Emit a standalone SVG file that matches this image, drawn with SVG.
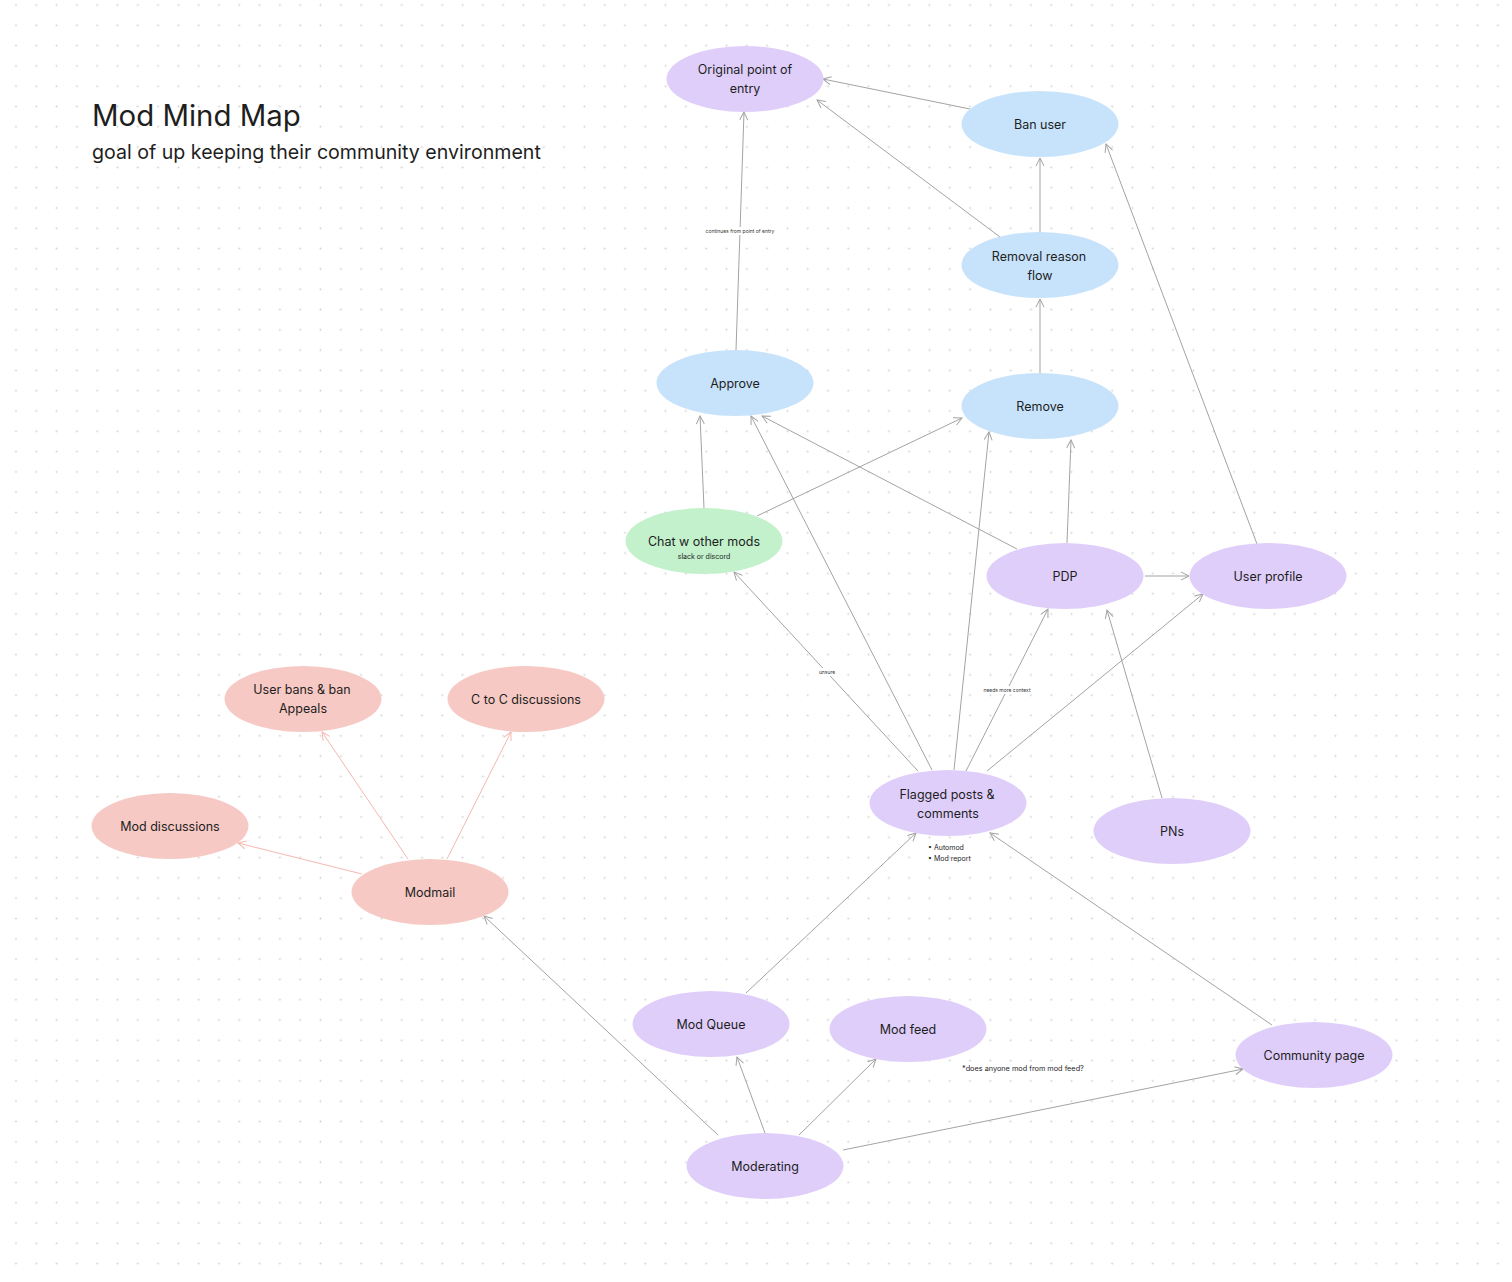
<svg xmlns="http://www.w3.org/2000/svg" width="1512" height="1282" viewBox="0 0 1512 1282">
<defs>
<pattern id="dots" patternUnits="userSpaceOnUse" x="5.85" y="-5.15" width="20.3" height="20.3">
<circle cx="10.15" cy="10.15" r="1" fill="#d2d2d2"/>
</pattern>
<marker id="ah" viewBox="0 0 10 10" refX="9" refY="5" markerWidth="10" markerHeight="10" markerUnits="userSpaceOnUse" orient="auto">
<path d="M1,1 L9,5 L1,9" fill="none" stroke="#a3a3a3" stroke-width="1"/>
</marker>
<marker id="ahp" viewBox="0 0 10 10" refX="9" refY="5" markerWidth="10" markerHeight="10" markerUnits="userSpaceOnUse" orient="auto">
<path d="M1,1 L9,5 L1,9" fill="none" stroke="#f4b8b0" stroke-width="1"/>
</marker>
</defs>
<style>
.t{font-family:Inter,"Liberation Sans",sans-serif;fill:#1e1e1e;text-anchor:middle}
.n{font-size:12.5px}
.s{font-size:5px;fill:#333}
.c{stroke:#a3a3a3;stroke-width:1;fill:none;marker-end:url(#ah)}
.cp{stroke:#f4b8b0;stroke-width:1;fill:none;marker-end:url(#ahp)}
.pu{fill:#e0cefa}
.bl{fill:#c7e3fb}
.gr{fill:#c2f1cb}
.pk{fill:#f6c9c4}
.lb{fill:#ffffff}
</style>
<rect width="1512" height="1282" fill="#ffffff"/>
<rect width="1512" height="1282" fill="url(#dots)"/>

<g id="title">
<text x="92" y="126" font-family="Inter,'Liberation Sans',sans-serif" font-size="29.4" fill="#1e1e1e">Mod Mind Map</text>
<text x="92" y="159" font-family="Inter,'Liberation Sans',sans-serif" font-size="19.6" fill="#1e1e1e">goal of up keeping their community environment</text>
</g>

<g id="connectors">
<line class="c" x1="736" y1="350" x2="744" y2="112"/>
<line class="c" x1="970" y1="109" x2="823" y2="79"/>
<line class="c" x1="1000" y1="237" x2="817" y2="100"/>
<line class="c" x1="1040" y1="232" x2="1040" y2="158"/>
<line class="c" x1="1040" y1="373" x2="1040" y2="299"/>
<line class="c" x1="1257" y1="544" x2="1106" y2="144"/>
<line class="c" x1="704" y1="508" x2="700" y2="416"/>
<line class="c" x1="757" y1="516" x2="962" y2="418"/>
<line class="c" x1="1017" y1="549" x2="762" y2="416"/>
<line class="c" x1="1067" y1="543" x2="1071" y2="440"/>
<line class="c" x1="1145" y1="576" x2="1189" y2="576"/>
<line class="c" x1="918" y1="771" x2="734" y2="572"/>
<line class="c" x1="932" y1="770" x2="751" y2="416"/>
<line class="c" x1="954" y1="770" x2="989" y2="432"/>
<line class="c" x1="966" y1="771" x2="1048" y2="609"/>
<line class="c" x1="987" y1="771" x2="1203" y2="594"/>
<line class="c" x1="1162" y1="798" x2="1107" y2="610"/>
<line class="c" x1="746" y1="993" x2="916" y2="833"/>
<line class="c" x1="1272" y1="1025" x2="990" y2="833"/>
<line class="c" x1="718" y1="1135" x2="484" y2="916"/>
<line class="c" x1="765" y1="1133" x2="737" y2="1057"/>
<line class="c" x1="799" y1="1135" x2="876" y2="1059"/>
<line class="c" x1="843" y1="1150" x2="1243" y2="1069"/>
<line class="cp" x1="408" y1="859" x2="322" y2="732"/>
<line class="cp" x1="447" y1="859" x2="511" y2="732"/>
<line class="cp" x1="362" y1="874" x2="238" y2="843"/>
<rect class="lb" x="703" y="227" width="75" height="8"/>
<text class="t s" x="740" y="233">continues from point of entry</text>
<rect class="lb" x="815" y="668" width="24" height="8"/>
<text class="t s" x="827" y="674">unsure</text>
<rect class="lb" x="980" y="686" width="54" height="8"/>
<text class="t s" x="1007" y="692">needs more context</text>
</g>

<g id="original-point-of-entry"><ellipse class="pu" cx="745" cy="79" rx="78.5" ry="33"/><text class="t n" x="745" y="74">Original point of</text><text class="t n" x="745" y="93">entry</text></g>
<g id="ban-user"><ellipse class="bl" cx="1040" cy="124" rx="78.5" ry="33"/><text class="t n" x="1040" y="129">Ban user</text></g>
<g id="removal-reason-flow"><ellipse class="bl" cx="1040" cy="265" rx="78.5" ry="33"/><text class="t n" x="1039" y="261">Removal reason</text><text class="t n" x="1040" y="280">flow</text></g>
<g id="approve"><ellipse class="bl" cx="735" cy="383" rx="78.5" ry="33"/><text class="t n" x="735" y="388">Approve</text></g>
<g id="remove"><ellipse class="bl" cx="1040" cy="406" rx="78.5" ry="33"/><text class="t n" x="1040" y="411">Remove</text></g>
<g id="chat-w-other-mods"><ellipse class="gr" cx="704" cy="541" rx="78.5" ry="33"/><text class="t n" x="704" y="546">Chat w other mods</text><text class="t" x="704" y="559" font-size="7">slack or discord</text></g>
<g id="pdp"><ellipse class="pu" cx="1065" cy="576" rx="78.5" ry="33"/><text class="t n" x="1065" y="581">PDP</text></g>
<g id="user-profile"><ellipse class="pu" cx="1268" cy="576" rx="78.5" ry="33"/><text class="t n" x="1268" y="581">User profile</text></g>
<g id="user-bans"><ellipse class="pk" cx="303" cy="699" rx="78.5" ry="33"/><text class="t n" x="302" y="694">User bans &amp; ban</text><text class="t n" x="303" y="713">Appeals</text></g>
<g id="c-to-c"><ellipse class="pk" cx="526" cy="699" rx="78.5" ry="33"/><text class="t n" x="526" y="704">C to C discussions</text></g>
<g id="mod-discussions"><ellipse class="pk" cx="170" cy="826" rx="78.5" ry="33"/><text class="t n" x="170" y="831">Mod discussions</text></g>
<g id="modmail"><ellipse class="pk" cx="430" cy="892" rx="78.5" ry="33"/><text class="t n" x="430" y="897">Modmail</text></g>
<g id="flagged-posts"><ellipse class="pu" cx="948" cy="803" rx="78.5" ry="33"/><text class="t n" x="947" y="799">Flagged posts &amp;</text><text class="t n" x="948" y="818">comments</text>
<g font-family="Inter,'Liberation Sans',sans-serif" font-size="7" fill="#1e1e1e"><text x="928" y="850">•  Automod</text><text x="928" y="861">•  Mod report</text></g></g>
<g id="pns"><ellipse class="pu" cx="1172" cy="831" rx="78.5" ry="33"/><text class="t n" x="1172" y="836">PNs</text></g>
<g id="mod-queue"><ellipse class="pu" cx="711" cy="1024" rx="78.5" ry="33"/><text class="t n" x="711" y="1029">Mod Queue</text></g>
<g id="mod-feed"><ellipse class="pu" cx="908" cy="1029" rx="78.5" ry="33"/><text class="t n" x="908" y="1034">Mod feed</text>
<text x="962" y="1071" font-family="Inter,'Liberation Sans',sans-serif" font-size="7.3" fill="#1e1e1e">*does anyone mod from mod feed?</text></g>
<g id="community-page"><ellipse class="pu" cx="1314" cy="1055" rx="78.5" ry="33"/><text class="t n" x="1314" y="1060">Community page</text></g>
<g id="moderating"><ellipse class="pu" cx="765" cy="1166" rx="78.5" ry="33"/><text class="t n" x="765" y="1171">Moderating</text></g>
</svg>
